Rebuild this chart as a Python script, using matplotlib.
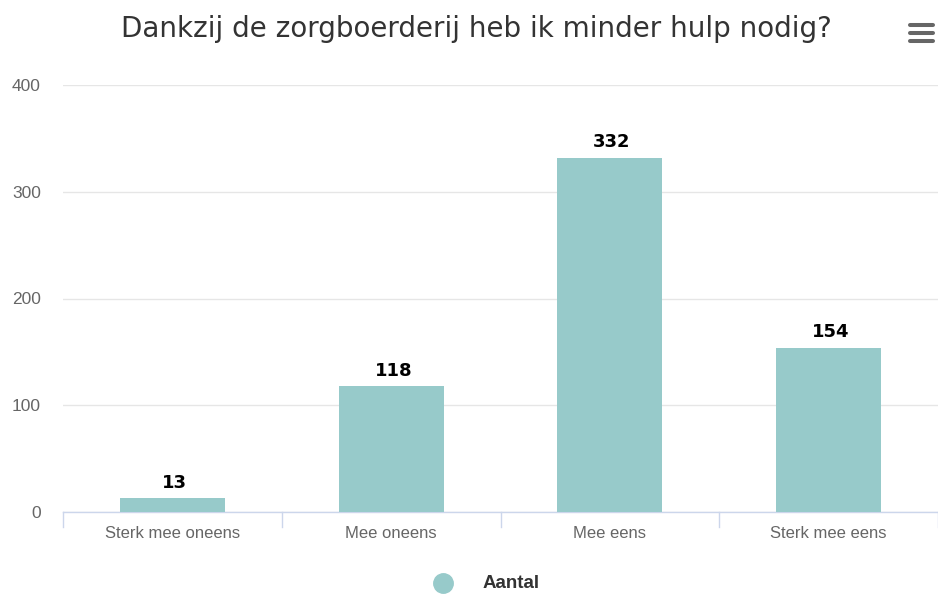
import matplotlib.pyplot as plt
from matplotlib.lines import Line2D

categories = ["Sterk mee oneens", "Mee oneens", "Mee eens", "Sterk mee eens"]
values = [13, 118, 332, 154]
yticks = [0, 100, 200, 300, 400]
series_name = "Aantal"
title = "Dankzij de zorgboerderij heb ik minder hulp nodig?"

bar_color = "#97caca"

fig = plt.figure(figsize=(9.38, 5.95), dpi=100)
ax = fig.add_axes([63 / 938, 83 / 595, 875 / 938, 427 / 595])

x = range(len(categories))
bars = ax.bar(x, values, width=0.48, color=bar_color, zorder=3)

for b, v in zip(bars, values):
    ax.text(b.get_x() + b.get_width() / 2 + 0.01, v + 6, str(v), ha="center", va="bottom",
            fontsize=13, fontweight="bold", family="DejaVu Sans", color="black")

ax.set_xlim(-0.5, len(categories) - 0.5)
ax.set_ylim(0, 400)
ax.set_yticks(yticks)
ax.set_yticklabels([str(t) for t in yticks], family="Liberation Sans", fontsize=12.5, color="#666666")
ax.grid(axis="y", color="#e6e6e6", linewidth=1, zorder=0)
ax.tick_params(axis="y", length=0, pad=16)

ax.set_xticks(list(x))
ax.set_xticklabels(categories, family="Liberation Sans", fontsize=12, color="#666666")
ax.tick_params(axis="x", length=0, pad=10)
# category boundary tick marks
for b in [i - 0.5 for i in range(len(categories) + 1)]:
    ax.plot([b, b], [0, -14], color="#ccd6eb", linewidth=1, clip_on=False, zorder=4)

for s in ["top", "right", "left"]:
    ax.spines[s].set_visible(False)
ax.spines["bottom"].set_color("#ccd6eb")
ax.spines["bottom"].set_linewidth(1)

fig.text(476 / 938, 1 - 29 / 595, title, ha="center", va="center",
         family="DejaVu Sans", fontsize=20, color="#333333")

# menu icon
for yy in [25, 33, 41]:
    fig.add_artist(Line2D([910 / 938, 933 / 938], [1 - yy / 595, 1 - yy / 595],
                          color="#666666", linewidth=2.9, solid_capstyle="round"))

# legend
fig.add_artist(Line2D([443 / 938], [1 - 583 / 595], marker="o", markersize=14,
                      color=bar_color, linestyle="none"))
fig.text(483 / 938, 1 - 584 / 595, series_name, ha="left", va="center",
         family="Liberation Sans", fontsize=13.5, fontweight="bold", color="#333333")

fig.savefig("out.png", dpi=100)
